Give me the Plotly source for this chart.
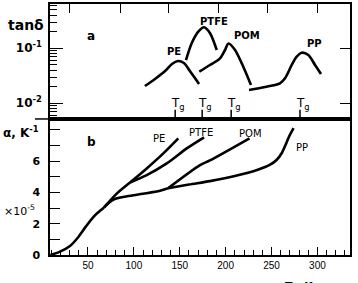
import plotly.graph_objects as go
import numpy as np

# ---------------- data ----------------
# top panel (a): tan(delta) vs T
pe_a_T = [112, 123, 134, 141.5, 148, 154.5, 161, 166.5, 171]
pe_a_v = [0.0206, 0.0277, 0.0387, 0.0519, 0.0587, 0.054, 0.0387, 0.0288, 0.0224]
ptfe_a_T = [156.8, 163, 170.2, 176.4, 183, 190.3]
ptfe_a_v = [0.0612, 0.1233, 0.2004, 0.241, 0.1875, 0.093]
pom_a_T = [171.3, 182.9, 193.9, 199.3, 203.1, 210.2, 219.2, 227.6]
pom_a_v = [0.0376, 0.0497, 0.0658, 0.0931, 0.1222, 0.0931, 0.0462, 0.0215]
pp_a_T = [225.5, 243, 259.2, 264.7, 272, 277.4, 282.9, 290.1, 297.4, 303.9]
pp_a_v = [0.01746, 0.01978, 0.0231, 0.0285, 0.0497, 0.0703, 0.0832, 0.0755, 0.0497, 0.0341]
tg_T = [145, 174.4, 206, 281]

# bottom panel (b): alpha (x1e-5 K^-1) vs T
common_T = [9, 19.5, 30.4, 39.1, 47.8, 56.5, 63.1, 67.5]
common_a = [0, 0.22, 0.58, 1.12, 1.83, 2.47, 2.82, 3.04]
upper_T = [67.5, 81.3, 95.8]
upper_a = [3.04, 3.92, 4.63]
pe_b_T = [95.8, 114, 132.1, 148.4]
pe_b_a = [4.63, 5.53, 6.49, 7.45]
ptfe_b_T = [95.8, 114, 135.8, 157.6, 176.5]
ptfe_b_a = [4.63, 5.1, 5.85, 6.81, 7.52]
lower_T = [67.5, 77.3, 92.6, 110, 128.5, 137.2]
lower_a = [3.04, 3.53, 3.75, 3.91, 4.1, 4.26]
pom_b_T = [137.2, 172.1, 182.9, 226]
pom_b_a = [4.26, 5.74, 6.04, 7.45]
pp_b_T = [137.2, 160, 183, 210, 235, 248, 256, 261, 265, 269, 274]
pp_b_a = [4.26, 4.5, 4.72, 5.05, 5.45, 5.75, 6.1, 6.5, 7.0, 7.55, 8.1]

x_ticks = [50, 100, 150, 200, 250, 300]
top_ticks = [30, 85, 138, 192, 246, 300]
y_b_ticks = [0, 1, 2, 3, 4, 5, 6, 7, 8]
y_b_labels = ["0", "", "2", "", "4", "", "6", "", ""]

labels_a = ["PE", "PTFE", "POM", "PP"]
labels_a_T = [143.2, 187.3, 223.3, 296.3]
labels_a_v = [0.0857, 0.313, 0.1675, 0.1247]
labels_b_T = [127.4, 173.1, 227.6, 283.2]
labels_b_a = [7.47, 7.85, 7.79, 6.89]

# ---------------- figure ----------------
XR = [8.6, 335.5]
split = 0.542
LW = 2.6
FONT = "DejaVu Sans, sans-serif"
TFONT = "Liberation Sans, Arial, sans-serif"

fig = go.Figure()
line = dict(color="black", width=LW, shape="spline", smoothing=0.8)

for T, v in [(pe_a_T, pe_a_v), (ptfe_a_T, ptfe_a_v), (pom_a_T, pom_a_v), (pp_a_T, pp_a_v)]:
    fig.add_trace(go.Scatter(x=T, y=v, mode="lines", line=line, xaxis="x2", yaxis="y2",
                             showlegend=False, hoverinfo="skip"))

for T, a in [(common_T, common_a), (upper_T, upper_a), (pe_b_T, pe_b_a), (ptfe_b_T, ptfe_b_a),
             (lower_T, lower_a), (pom_b_T, pom_b_a), (pp_b_T, pp_b_a)]:
    fig.add_trace(go.Scatter(x=T, y=a, mode="lines", line=line, xaxis="x", yaxis="y",
                             showlegend=False, hoverinfo="skip"))

# invisible trace for right-side ticks axis
fig.add_trace(go.Scatter(x=[XR[0]], y=[0.05], mode="markers", marker=dict(opacity=0),
                         xaxis="x2", yaxis="y3", showlegend=False, hoverinfo="skip"))

minor_log = [m * 10.0 ** e for e in (-3, -2, -1) for m in range(2, 10)]
yr_top = [-2.285, -0.195]

fig.update_layout(
    width=358, height=283,
    margin=dict(l=50, r=8, t=4, b=28),
    paper_bgcolor="white", plot_bgcolor="white",
    font=dict(family=FONT, color="black", size=10),
    xaxis=dict(domain=[0, 1], anchor="y", range=XR, showline=True, linecolor="black", linewidth=1.5,
               mirror=True, ticks="inside", ticklen=8, tickwidth=1.2, tickcolor="black",
               tickvals=x_ticks, showgrid=False, zeroline=False,
               tickfont=dict(size=10, family=TFONT),
               minor=dict(dtick=10, tick0=0, ticks="inside", ticklen=5, tickwidth=1, tickcolor="black")),
    yaxis=dict(domain=[0, split], anchor="x", range=[0, 8.69], showline=True, linecolor="black",
               linewidth=1.5, mirror=True, ticks="inside", ticklen=10, tickwidth=1.2, tickcolor="black",
               tickvals=y_b_ticks, ticktext=y_b_labels, showgrid=False, zeroline=False,
               ticklabelstandoff=6, tickfont=dict(size=11, family=FONT, weight="bold")),
    xaxis2=dict(domain=[0, 1], anchor="y2", range=XR, side="top", showline=True, linecolor="black",
                linewidth=1.5, mirror=True, ticks="inside", ticklen=9, tickwidth=1.2, tickcolor="black",
                tickvals=top_ticks, showticklabels=False, showgrid=False, zeroline=False),
    yaxis2=dict(domain=[split, 1], anchor="x2", type="log", range=yr_top, showline=True,
                linecolor="black", linewidth=1.5, mirror=True, ticks="inside", ticklen=13, tickwidth=1.2,
                tickcolor="black", tickvals=[0.01, 0.1], ticktext=["10<sup>-2</sup>", "10<sup>-1</sup>"],
                showgrid=False, zeroline=False, ticklabelstandoff=4,
                tickfont=dict(size=12, family=FONT, weight="bold"),
                minor=dict(tickvals=minor_log, ticks="inside", ticklen=7, tickwidth=1, tickcolor="black",
                           showgrid=False)),
    yaxis3=dict(overlaying="y2", side="right", anchor="x2", type="log", range=yr_top,
                ticks="inside", ticklen=10, tickwidth=1.2, tickcolor="black", tickvals=[0.01, 0.1],
                showticklabels=False, showgrid=False, zeroline=False, showline=False),
)

# Tg markers
for t in tg_T:
    fig.add_shape(type="line", xref="x2", yref="y2 domain", x0=t, x1=t, y0=0, y1=0.08,
                  line=dict(color="black", width=1.5))
    fig.add_annotation(x=t, y=0.05, xref="x2", yref="y2 domain", text="T<sub>g</sub>",
                       showarrow=False, xanchor="left", yanchor="bottom", xshift=-5,
                       font=dict(size=12, family=FONT), borderpad=0)

# divider extension to the left
fig.add_shape(type="line", xref="paper", yref="paper", x0=-0.05, x1=0, y0=split, y1=split,
              line=dict(color="black", width=1.5))

for txt, T, v in zip(labels_a, labels_a_T, labels_a_v):
    fig.add_annotation(x=T, y=np.log10(v), xref="x2", yref="y2", text=txt, showarrow=False,
                       font=dict(family=FONT, size=10, weight="bold"))
for txt, T, a in zip(labels_a, labels_b_T, labels_b_a):
    fig.add_annotation(x=T, y=a, xref="x", yref="y", text=txt, showarrow=False,
                       font=dict(family=FONT, size=10))

fig.add_annotation(text="<b>a</b>", x=0.117, y=0.91, xref="paper", yref="paper", showarrow=False,
                   font=dict(size=12, family=FONT))
fig.add_annotation(text="<b>b</b>", x=0.117, y=0.45, xref="paper", yref="paper", showarrow=False,
                   font=dict(size=12, family=FONT))
fig.add_annotation(text="<b>tanδ</b>", x=-0.015, y=0.955, xref="paper", yref="paper", showarrow=False,
                   xanchor="right", font=dict(size=14, family=FONT))
fig.add_annotation(text="<b>α, K<sup>-1</sup></b>", x=-0.03, y=0.49, xref="paper", yref="paper",
                   showarrow=False, xanchor="right", font=dict(size=12, family=FONT))
fig.add_annotation(text="×10<sup>-5</sup>", x=-0.045, y=0.14, xref="paper", yref="paper",
                   showarrow=False, xanchor="right", font=dict(size=11, family=FONT))
fig.add_annotation(text="<b>T , K</b>", x=0.83, y=-0.09, xref="paper", yref="paper",
                   showarrow=False, xanchor="center", yanchor="top", font=dict(size=11, family=FONT))

fig.write_html("out.html", config={"displayModeBar": False})
